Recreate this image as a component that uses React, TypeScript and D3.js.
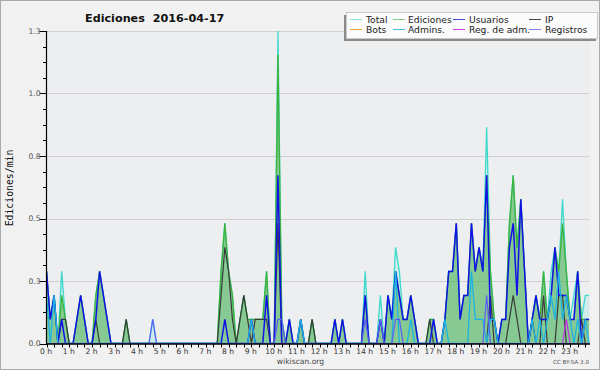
import React from "react";
import * as d3 from "d3";

// 10-minute bins, 0:00 .. 23:50 (144 bins). Values in edits/min.
const hourLabels = [
  "0 h", "1 h", "2 h", "3 h", "4 h", "5 h", "6 h", "7 h", "8 h", "9 h", "10 h", "11 h",
  "12 h", "13 h", "14 h", "15 h", "16 h", "17 h", "18 h", "19 h", "20 h", "21 h", "22 h", "23 h",
];
const yTickValues = [0, 0.26, 0.52, 0.78, 1.04, 1.3];
const yTickLabels = ["0.0", "0.3", "0.5", "0.8", "1.0", "1.3"];

const total = [
  0.3, 0.1, 0.2, 0, 0.3, 0.1, 0, 0, 0.1, 0.2, 0.1, 0,
  0, 0.2, 0.3, 0.2, 0.1, 0, 0, 0, 0, 0.1, 0, 0,
  0, 0, 0, 0, 0.1, 0, 0, 0, 0, 0, 0, 0,
  0, 0, 0, 0, 0, 0, 0, 0, 0, 0, 0.3, 0.5,
  0.3, 0.2, 0, 0.1, 0.2, 0.1, 0.1, 0.1, 0.1, 0.1, 0.3, 0,
  0, 1.3, 0.1, 0, 0.1, 0, 0, 0.1, 0, 0, 0.1, 0,
  0, 0, 0, 0, 0.1, 0, 0.1, 0, 0, 0, 0, 0,
  0.3, 0, 0, 0, 0.2, 0, 0.2, 0.1, 0.4, 0.3, 0.1, 0.1,
  0.2, 0.1, 0, 0, 0, 0.1, 0.1, 0, 0, 0.1, 0.3, 0.3,
  0.5, 0.1, 0.2, 0.2, 0.5, 0.3, 0.4, 0.3, 0.9, 0.3, 0.1, 0,
  0.1, 0.1, 0.5, 0.7, 0.4, 0.6, 0.3, 0, 0.1, 0.2, 0.1, 0.3,
  0.1, 0.3, 0.4, 0.3, 0.6, 0.3, 0.1, 0.2, 0.3, 0.1, 0.2, 0.2,
];

const ediciones = [
  0.3, 0.1, 0.2, 0, 0.2, 0.1, 0, 0, 0.1, 0.2, 0.1, 0,
  0, 0.2, 0.3, 0.2, 0.1, 0, 0, 0, 0, 0.1, 0, 0,
  0, 0, 0, 0, 0, 0, 0, 0, 0, 0, 0, 0,
  0, 0, 0, 0, 0, 0, 0, 0, 0, 0, 0.3, 0.5,
  0.3, 0.2, 0, 0.1, 0.2, 0.1, 0.1, 0.1, 0.1, 0.1, 0.3, 0,
  0, 1.2, 0.1, 0, 0.1, 0, 0, 0.1, 0, 0, 0.1, 0,
  0, 0, 0, 0, 0.1, 0, 0.1, 0, 0, 0, 0, 0,
  0.2, 0, 0, 0, 0.1, 0, 0.2, 0.1, 0.3, 0.2, 0.1, 0.1,
  0.2, 0.1, 0, 0, 0, 0.1, 0.1, 0, 0, 0.1, 0.3, 0.3,
  0.5, 0.1, 0.2, 0.2, 0.5, 0.3, 0.4, 0.3, 0.7, 0.3, 0.1, 0,
  0.1, 0.1, 0.5, 0.7, 0.4, 0.6, 0.3, 0, 0.1, 0.2, 0.1, 0.3,
  0.1, 0.2, 0.4, 0.3, 0.5, 0.3, 0.1, 0.1, 0.3, 0.1, 0.1, 0.1,
];

const usuarios = [
  0.3, 0.1, 0.2, 0, 0.1, 0, 0, 0, 0.1, 0.2, 0.1, 0,
  0, 0.1, 0.3, 0.2, 0.1, 0, 0, 0, 0, 0, 0, 0,
  0, 0, 0, 0, 0, 0, 0, 0, 0, 0, 0, 0,
  0, 0, 0, 0, 0, 0, 0, 0, 0, 0, 0, 0.1,
  0, 0, 0, 0, 0, 0, 0.1, 0, 0, 0, 0.2, 0,
  0, 0.7, 0, 0, 0.1, 0, 0, 0.1, 0, 0, 0, 0,
  0, 0, 0, 0, 0.1, 0, 0.1, 0, 0, 0, 0, 0,
  0.2, 0, 0, 0, 0.1, 0, 0.2, 0.1, 0.3, 0.2, 0.1, 0.1,
  0.2, 0.1, 0, 0, 0, 0, 0.1, 0, 0, 0.1, 0.3, 0.3,
  0.5, 0.1, 0.2, 0.2, 0.5, 0.3, 0.4, 0.3, 0.7, 0.1, 0.1, 0,
  0.1, 0.1, 0.4, 0.5, 0.2, 0.6, 0.3, 0, 0.1, 0.2, 0.1, 0.1,
  0.1, 0.2, 0.4, 0.2, 0.2, 0.2, 0.1, 0.1, 0.3, 0, 0.1, 0.1,
];

const ip = [
  0, 0, 0, 0, 0.1, 0.1, 0, 0, 0, 0, 0, 0,
  0, 0.1, 0, 0, 0, 0, 0, 0, 0, 0.1, 0, 0,
  0, 0, 0, 0, 0, 0, 0, 0, 0, 0, 0, 0,
  0, 0, 0, 0, 0, 0, 0, 0, 0, 0, 0.2, 0.4,
  0.3, 0.1, 0, 0.1, 0.2, 0.1, 0, 0.1, 0.1, 0.1, 0.1, 0,
  0, 0.5, 0, 0, 0, 0, 0, 0, 0, 0, 0.1, 0,
  0, 0, 0, 0, 0, 0, 0, 0, 0, 0, 0, 0,
  0, 0, 0, 0, 0, 0, 0, 0, 0, 0, 0, 0,
  0, 0, 0, 0, 0, 0.1, 0, 0, 0, 0, 0, 0,
  0, 0, 0, 0, 0, 0, 0, 0, 0, 0.2, 0, 0,
  0, 0, 0.1, 0.2, 0.1, 0, 0, 0, 0.1, 0, 0, 0.2,
  0, 0, 0, 0.2, 0.2, 0, 0, 0, 0, 0.1, 0, 0,
];

const bots = [
  0, 0, 0, 0, 0, 0, 0, 0, 0, 0, 0, 0,
  0, 0, 0, 0, 0, 0, 0, 0, 0, 0, 0, 0,
  0, 0, 0, 0, 0, 0, 0, 0, 0, 0, 0, 0,
  0, 0, 0, 0, 0, 0, 0, 0, 0, 0, 0, 0,
  0, 0, 0, 0, 0, 0, 0, 0, 0, 0, 0, 0,
  0, 0, 0, 0, 0, 0, 0, 0, 0, 0, 0, 0,
  0, 0, 0, 0, 0, 0, 0, 0, 0, 0, 0, 0,
  0, 0, 0, 0, 0, 0, 0, 0, 0, 0, 0, 0,
  0, 0, 0, 0, 0, 0, 0, 0, 0, 0, 0, 0,
  0, 0, 0, 0, 0, 0, 0, 0, 0, 0, 0, 0,
  0, 0, 0, 0, 0, 0, 0, 0, 0, 0, 0, 0,
  0, 0, 0, 0, 0, 0, 0, 0, 0, 0, 0, 0,
];

const admins = [
  0.2, 0, 0.2, 0, 0, 0, 0, 0, 0, 0, 0, 0,
  0, 0, 0, 0, 0, 0, 0, 0, 0, 0, 0, 0,
  0, 0, 0, 0, 0, 0, 0, 0, 0, 0, 0, 0,
  0, 0, 0, 0, 0, 0, 0, 0, 0, 0, 0, 0,
  0, 0, 0, 0, 0, 0, 0.1, 0, 0, 0, 0, 0,
  0, 0, 0, 0, 0, 0, 0, 0.1, 0, 0, 0, 0,
  0, 0, 0, 0, 0, 0, 0, 0, 0, 0, 0, 0,
  0, 0, 0, 0, 0, 0, 0, 0, 0.3, 0, 0, 0,
  0.1, 0, 0, 0, 0, 0, 0, 0, 0, 0.1, 0, 0,
  0, 0, 0, 0, 0.3, 0.1, 0.1, 0.1, 0, 0.1, 0.1, 0,
  0, 0, 0, 0, 0, 0, 0, 0, 0.1, 0, 0.1, 0,
  0.1, 0.2, 0.1, 0.3, 0.1, 0.2, 0.1, 0, 0.1, 0, 0.1, 0,
];

const regAdm = [
  0, 0, 0, 0, 0, 0, 0, 0, 0, 0, 0, 0,
  0, 0, 0, 0, 0, 0, 0, 0, 0, 0, 0, 0,
  0, 0, 0, 0, 0, 0, 0, 0, 0, 0, 0, 0,
  0, 0, 0, 0, 0, 0, 0, 0, 0, 0, 0, 0,
  0, 0, 0, 0, 0, 0, 0, 0, 0, 0, 0, 0,
  0, 0, 0, 0, 0, 0, 0, 0, 0, 0, 0, 0,
  0, 0, 0, 0, 0, 0, 0, 0, 0, 0, 0, 0,
  0, 0, 0, 0, 0, 0, 0, 0, 0, 0, 0, 0,
  0, 0, 0, 0, 0, 0, 0, 0, 0, 0, 0, 0,
  0, 0, 0, 0, 0, 0, 0, 0, 0, 0, 0, 0,
  0, 0, 0, 0, 0, 0, 0, 0, 0, 0, 0, 0,
  0, 0, 0, 0, 0, 0.1, 0, 0, 0, 0, 0, 0,
];

const registros = [
  0, 0, 0, 0, 0, 0, 0, 0, 0, 0, 0, 0,
  0, 0, 0, 0, 0, 0, 0, 0, 0, 0, 0, 0,
  0, 0, 0, 0, 0.1, 0, 0, 0, 0, 0, 0, 0,
  0, 0, 0, 0, 0, 0, 0, 0, 0, 0, 0, 0,
  0, 0, 0, 0, 0, 0, 0, 0, 0, 0, 0, 0,
  0, 0.1, 0.1, 0, 0, 0, 0, 0, 0, 0, 0, 0,
  0, 0, 0, 0, 0, 0, 0, 0, 0, 0, 0, 0,
  0.1, 0, 0, 0, 0.1, 0, 0, 0, 0.1, 0.1, 0, 0,
  0, 0, 0, 0, 0, 0, 0, 0, 0, 0, 0, 0,
  0, 0, 0, 0, 0, 0, 0, 0, 0.2, 0, 0, 0,
  0, 0, 0, 0, 0, 0, 0, 0, 0, 0, 0, 0,
  0, 0, 0, 0, 0, 0, 0, 0, 0, 0, 0, 0,
];

const legendItems = [
  { name: "Total", color: "#8fe3da" },
  { name: "Ediciones", color: "#7fcf7f" },
  { name: "Usuarios", color: "#4a4ae0" },
  { name: "IP", color: "#444444" },
  { name: "Bots", color: "#f2a030" },
  { name: "Admins.", color: "#45c0e0" },
  { name: "Reg. de adm.", color: "#cc44dd" },
  { name: "Registros", color: "#7f7ff0" },
];

const FONT = "DejaVu Sans, Verdana, sans-serif";

export default function App() {
  const x = d3.scaleLinear().domain([0, 143]).range([46.5, 589.1]);
  const y = d3.scaleLinear().domain([0, 1.3]).range([343.5, 31]);
  const idx = d3.range(total.length);

  const line = (arr: number[]) =>
    d3.line<number>().x((i) => x(i)).y((i) => y(arr[i]))(idx) || "";
  const area = (arr: number[]) =>
    d3.area<number>().x((i) => x(i)).y0(y(0)).y1((i) => y(arr[i]))(idx) || "";

  const minorY = d3.range(0, 21).map((k) => (1.3 * k) / 20);
  const xTicks = d3.range(0, 144, 2);
  const hourTicks = d3.range(0, 144, 6);

  const legendCols = [
    { lx: 350, tx: 366 },
    { lx: 393, tx: 408 },
    { lx: 453, tx: 469 },
    { lx: 529, tx: 545 },
  ];

  return (
    <svg
      width={600}
      height={370}
      style={{ position: "absolute", left: 0, top: 0, display: "block" }}
      fontFamily={FONT}
    >
      <defs>
        <clipPath id="plotclip">
          <rect x={46.5} y={30} width={543.5} height={314} />
        </clipPath>
      </defs>
      <rect x={0.5} y={0.5} width={599} height={369} fill="#f1f1f1" stroke="#a9a9a9" />
      <rect x={46.5} y={31} width={543.5} height={312.5} fill="#edeef0" />

      {/* grid */}
      {yTickValues.slice(1).map((v, k) => (
        <line key={"g" + k} x1={47} x2={590} y1={Math.round(y(v)) + 0.5} y2={Math.round(y(v)) + 0.5} stroke="#cfcfd2" strokeWidth={1} />
      ))}

      {/* series */}
      <g clipPath="url(#plotclip)">
        <path d={area(total)} fill="#40e0d0" fillOpacity={0.17} />
        <path d={line(total)} fill="none" stroke="#3fd9cc" strokeWidth={1.3} />
        <path d={area(ediciones)} fill="rgb(60,165,60)" fillOpacity={0.5} />
        <path d={line(ediciones)} fill="none" stroke="#3cb43c" strokeWidth={1.3} />
        <path d={line(ip)} fill="none" stroke="#3a3a3a" strokeWidth={1.2} />
        <path d={line(usuarios)} fill="none" stroke="#1212e8" strokeWidth={1.5} />
        <path d={line(bots)} fill="none" stroke="#ff9a20" strokeWidth={1.2} />
        <path d={line(admins)} fill="none" stroke="#1cb4e4" strokeWidth={1.3} />
        <path d={line(regAdm)} fill="none" stroke="#c030e0" strokeWidth={1.2} />
        <path d={line(registros)} fill="none" stroke="#5c5cf4" strokeWidth={1.2} />
      </g>

      {/* y axis */}
      <line x1={46.5} x2={46.5} y1={31} y2={344.5} stroke="#000" strokeWidth={1.2} />
      {minorY.map((v, k) => (
        <line key={"my" + k} x1={43} x2={46.5} y1={Math.round(y(v)) + 0.5} y2={Math.round(y(v)) + 0.5} stroke="#000" strokeWidth={1} />
      ))}
      {yTickValues.map((v, k) => (
        <g key={"yt" + k}>
          <line x1={39.5} x2={46.5} y1={Math.round(y(v)) + 0.5} y2={Math.round(y(v)) + 0.5} stroke="#000" strokeWidth={1} />
          <text x={40.5} y={y(v) + 2.8} textAnchor="end" fontSize={7.6} fill="#555">
            {yTickLabels[k]}
          </text>
        </g>
      ))}
      <text
        transform="translate(13,188) rotate(-90)"
        textAnchor="middle"
        fontFamily="DejaVu Sans Mono, monospace"
        fontSize={9.8}
        fill="#111"
      >
        Ediciones/min
      </text>

      {/* x axis */}
      <line x1={46} x2={590} y1={344} y2={344} stroke="#000" strokeWidth={1.4} />
      {xTicks.map((t) => (
        <line key={"xt" + t} x1={Math.round(x(t)) + 0.5} x2={Math.round(x(t)) + 0.5} y1={344} y2={347.5} stroke="#000" strokeWidth={1} />
      ))}
      {hourTicks.map((t, k) => (
        <text key={"xl" + t} x={x(t) - 0.5} y={354} textAnchor="middle" fontSize={7.6} fill="#333">
          {hourLabels[k]}
        </text>
      ))}

      {/* title */}
      <text x={85} y={22} fontSize={11.2} fontWeight="bold" fill="#111" style={{ whiteSpace: "pre" }}>
        {"Ediciones  2016-04-17"}
      </text>

      {/* footer */}
      <text x={300.5} y={363.5} textAnchor="middle" fontSize={7.6} fill="#444">
        wikiscan.org
      </text>
      <text x={589} y={364} textAnchor="end" fontSize={5.6} fill="#555">
        CC BY-SA 3.0
      </text>

      {/* legend */}
      <rect x={344} y={15} width={252} height={26} fill="#8a8a8a" />
      <rect x={346.5} y={12.5} width={251} height={26} fill="#fbfbfb" stroke="#c8c8c8" />
      {legendItems.map((it, k) => {
        const col = legendCols[k % 4];
        const row = Math.floor(k / 4);
        const ly = 19.5 + row * 10;
        return (
          <g key={"lg" + k}>
            <line x1={col.lx} x2={col.lx + 12} y1={ly} y2={ly} stroke={it.color} strokeWidth={1} />
            <text x={col.tx} y={ly + 3.2} fontSize={9.2} fill="#222">
              {it.name}
            </text>
          </g>
        );
      })}
    </svg>
  );
}
